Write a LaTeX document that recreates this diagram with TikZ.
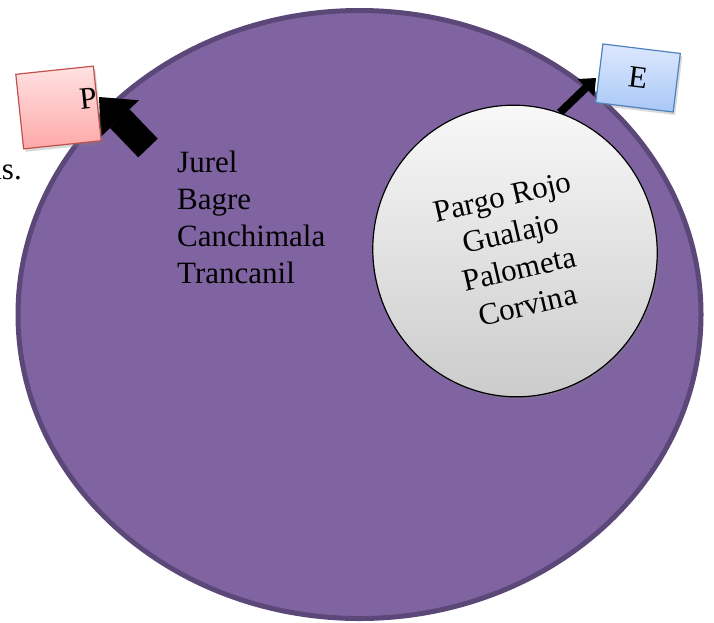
\documentclass[tikz,border=0pt]{standalone}
\usepackage{fontspec}
\setmainfont{Liberation Serif}
\usetikzlibrary{arrows.meta,shapes.geometric,shadows,backgrounds}
\definecolor{lila}{HTML}{8064A2}
\definecolor{lilaborde}{HTML}{5C4878}
\definecolor{rojoborde}{HTML}{C0504D}
\definecolor{rojoarriba}{HTML}{FFE2E2}
\definecolor{rojoabajo}{HTML}{FFA8A8}
\definecolor{azulborde}{HTML}{4F81BD}
\definecolor{azularriba}{HTML}{DDE8FF}
\definecolor{azulabajo}{HTML}{A9C8F6}
\def\letra{\fontsize{31}{37}\selectfont}
\tikzset{
	caja/.style={draw,line width=1.2pt,inner sep=0pt,drop shadow={opacity=0.3,shadow xshift=2pt,shadow yshift=-3pt}},
	flecha/.style={line width=#1,line cap=butt},
}

\begin{document}
\begin{tikzpicture}[x=1pt,y=-1pt,font=\letra]
\useasboundingbox (0,0) rectangle (714,622);
\node[ellipse,draw=black,line width=1.2pt,minimum width=284pt,minimum height=292pt,inner sep=0pt,rotate=13,align=center,top color=gray!4,bottom color=gray!42,drop shadow={opacity=0.3}] (peces) at (515,251) {Pargo Rojo\\Gualajo\\Palometa\\Corvina};
\node[caja,draw=rojoborde,top color=rojoarriba,bottom color=rojoabajo,minimum width=76pt,minimum height=75pt,text width=78pt,align=right,text depth=12pt,rotate=6] (pbox) at (58.5,107.5) {P};
\node[caja,draw=azulborde,top color=azularriba,bottom color=azulabajo,minimum width=78pt,minimum height=59pt,rotate=-7] (ebox) at (638,78) {E};
\node[anchor=north west,align=left,inner sep=0pt] (lista) at (177,151) {Jurel\\Bagre\\Canchimala\\Trancanil};
\node[anchor=base east,inner sep=0pt] (resto) at (22,179) {as.};
\coordinate (pcola) at (148,148);
\coordinate (ppunta) at (99,97);
\coordinate (epunta) at (596,78);
\begin{scope}[on background layer]
\node[ellipse,draw=lilaborde,fill=lila,line width=5pt,minimum width=683pt,minimum height=608pt] (mar) at (359.5,314.5) {};
\draw[flecha=27pt,-{Triangle[width=53pt,length=30pt,line width=0pt]}] (pcola) -- (ppunta);
\draw[flecha=8pt,-{Triangle[width=24pt,length=14pt,line width=0pt]}] (peces.59) -- (epunta);
\end{scope}
\end{tikzpicture}
\end{document}
